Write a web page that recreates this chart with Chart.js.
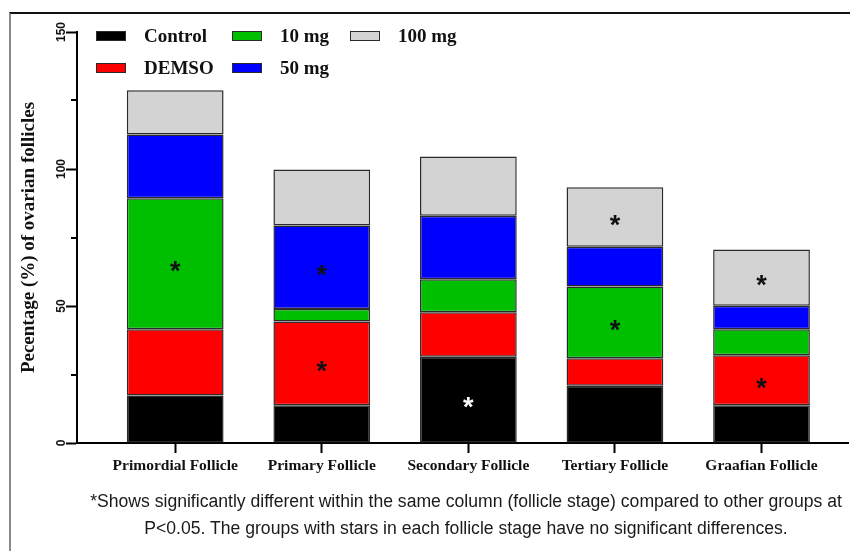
<!DOCTYPE html>
<html>
<head>
<meta charset="utf-8">
<script src="https://cdn.jsdelivr.net/npm/chart.js@4/dist/chart.umd.min.js"></script>
<style>
  html, body { margin: 0; padding: 0; background: #fff; }
  #wrap { position: relative; width: 850px; height: 551px; overflow: hidden; }
  #frame { position: absolute; left: 9px; top: 12px; width: 850px; height: 560px;
           border-top: 2px solid #111; border-left: 2px solid #8a8a8a; box-sizing: border-box; }
  #chart { position: absolute; left: 0; top: 0; }
  #caption { position: absolute; left: 66px; width: 800px; top: 488px; text-align: center;
             font: 17.6px "Liberation Sans", Arial, sans-serif; line-height: 27px; color: #1a1a1a; }
</style>
</head>
<body>
<div id="wrap">
  <div id="frame"></div>
  <canvas id="chart" width="850" height="551"></canvas>
  <div id="caption">*Shows significantly different within the same column (follicle stage) compared to other groups at<br>P&lt;0.05. The groups with stars in each follicle stage have no significant differences.</div>
</div>
<script>
// follicle stages (x categories)
const stages = ['Primordial Follicle', 'Primary Follicle', 'Secondary Follicle', 'Tertiary Follicle', 'Graafian Follicle'];
const groups = ['Control', 'DEMSO', '10 mg', '50 mg', '100 mg'];

// percentage of ovarian follicles, per group
const controlVals = [17.3, 13.8, 31.5, 20.9, 13.8];
const demsoVals   = [24.2, 30.5, 16.2, 10.0, 18.2];
const mg10Vals    = [47.8, 4.6, 12.1, 26.2, 9.5];
const mg50Vals    = [23.3, 30.5, 23.1, 14.5, 8.6];
const mg100Vals   = [16.1, 20.4, 21.7, 21.7, 20.5];

// significance stars (1 = star in that segment)
const controlStars = [0, 0, 1, 0, 0];
const demsoStars   = [0, 1, 0, 0, 1];
const mg10Stars    = [1, 0, 0, 1, 0];
const mg50Stars    = [0, 1, 0, 0, 0];
const mg100Stars   = [0, 0, 0, 1, 1];

const yMajorTicks = [0, 50, 100, 150];

const COLORS = ['#000000', '#ff0000', '#00bf00', '#0000ff', '#d3d3d3'];
const seriesVals = [controlVals, demsoVals, mg10Vals, mg50Vals, mg100Vals];
const seriesStars = [controlStars, demsoStars, mg10Stars, mg50Stars, mg100Stars];

const datasets = groups.map((g, i) => ({
  label: g,
  data: seriesVals[i].map((v, j) => ({ x: j + 1, y: v })),
  stars: seriesStars[i],
  backgroundColor: COLORS[i],
  borderColor: '#2b2b2b',
  borderWidth: 1.5,
  borderSkipped: false,
  categoryPercentage: 1,
  barPercentage: 0.66
}));

/**
 * Stars drawn in the middle of the marked segments
 */
const starPlugin = {
  id: 'stars',
  afterDatasetsDraw(chart) {
    const ctx = chart.ctx;
    ctx.save();
    ctx.font = 'bold 27px "Liberation Sans", Arial, sans-serif';
    ctx.textAlign = 'center';
    ctx.textBaseline = 'middle';
    chart.data.datasets.forEach((ds, i) => {
      const meta = chart.getDatasetMeta(i);
      meta.data.forEach((bar, j) => {
        if (!ds.stars[j]) return;
        const p = bar.getProps(['x', 'y', 'base'], true);
        ctx.fillStyle = i === 0 ? '#ffffff' : '#111111';
        ctx.fillText('*', p.x, (p.y + p.base) / 2 + 9);
      });
    });
    ctx.restore();
  }
};

/**
 * Legend in two rows, filled column by column
 */
const legendPlugin = {
  id: 'gridLegend',
  afterDraw(chart) {
    const ctx = chart.ctx;
    const colX = [96, 232, 350];
    const rowY = [36, 68];
    ctx.save();
    ctx.font = 'bold 19px "Liberation Serif", "Times New Roman", serif';
    ctx.textBaseline = 'middle';
    ctx.textAlign = 'left';
    chart.data.datasets.forEach((ds, i) => {
      const x = colX[Math.floor(i / 2)];
      const y = rowY[i % 2];
      ctx.fillStyle = ds.backgroundColor;
      ctx.fillRect(x, y - 5, 30, 10);
      ctx.strokeStyle = '#2b2b2b';
      ctx.lineWidth = 1;
      ctx.strokeRect(x + 0.5, y - 4.5, 29, 9);
      ctx.fillStyle = '#111';
      ctx.fillText(ds.label, x + 48, y + 1);
    });
    ctx.restore();
  }
};

/**
 * Short minor ticks on the y axis
 */
const minorTickPlugin = {
  id: 'minorTicks',
  afterDraw(chart) {
    const y = chart.scales.y;
    const ctx = chart.ctx;
    ctx.save();
    ctx.strokeStyle = '#000';
    ctx.lineWidth = 2;
    y.ticks.forEach(t => {
      if (yMajorTicks.includes(t.value)) return;
      const py = Math.round(y.getPixelForValue(t.value));
      ctx.beginPath();
      ctx.moveTo(y.right - 6, py);
      ctx.lineTo(y.right, py);
      ctx.stroke();
    });
    ctx.restore();
  }
};

new Chart(document.getElementById('chart'), {
  type: 'bar',
  data: { datasets },
  plugins: [starPlugin, legendPlugin, minorTickPlugin],
  options: {
    responsive: false,
    animation: false,
    layout: { padding: { left: 10, top: 32, right: 2, bottom: 66 } },
    plugins: {
      legend: { display: false },
      tooltip: { enabled: false }
    },
    scales: {
      x: {
        type: 'linear',
        stacked: true,
        offset: false,
        min: 0.33,
        max: 5.59,
        afterBuildTicks: s => { s.ticks = stages.map((_, i) => ({ value: i + 1 })); },
        afterFit: s => { s.height = 42; },
        grid: { offset: false, drawOnChartArea: false, drawTicks: true, tickLength: 10, tickWidth: 2, tickColor: '#000' },
        border: { color: '#000', width: 2 },
        ticks: {
          padding: 4,
          maxRotation: 0,
          autoSkip: false,
          color: '#111',
          font: { family: '"Liberation Serif", "Times New Roman", serif', size: 15.5, weight: 'bold' },
          callback: v => stages[v - 1] || ''
        }
      },
      y: {
        stacked: true,
        min: 0,
        max: 150,
        afterFit: s => { s.width = 67; },
        grid: {
          drawOnChartArea: false,
          drawTicks: true,
          tickLength: 11,
          tickWidth: 2,
          tickColor: c => yMajorTicks.includes(c.tick.value) ? '#000' : 'rgba(0,0,0,0)'
        },
        border: { color: '#000', width: 2 },
        ticks: {
          stepSize: 25,
          minRotation: 90,
          maxRotation: 90,
          crossAlign: 'center',
          padding: -6,
          color: '#111',
          font: { family: '"Liberation Sans", Arial, sans-serif', size: 12, weight: 'bold' },
          callback: v => yMajorTicks.includes(v) ? String(v) : ''
        },
        title: {
          display: true,
          text: 'Pecentage (%) of ovarian follicles',
          color: '#111',
          padding: { top: 8, bottom: 0 },
          font: { family: '"Liberation Serif", "Times New Roman", serif', size: 19, weight: 'bold' }
        }
      }
    }
  }
});
</script>
</body>
</html>
